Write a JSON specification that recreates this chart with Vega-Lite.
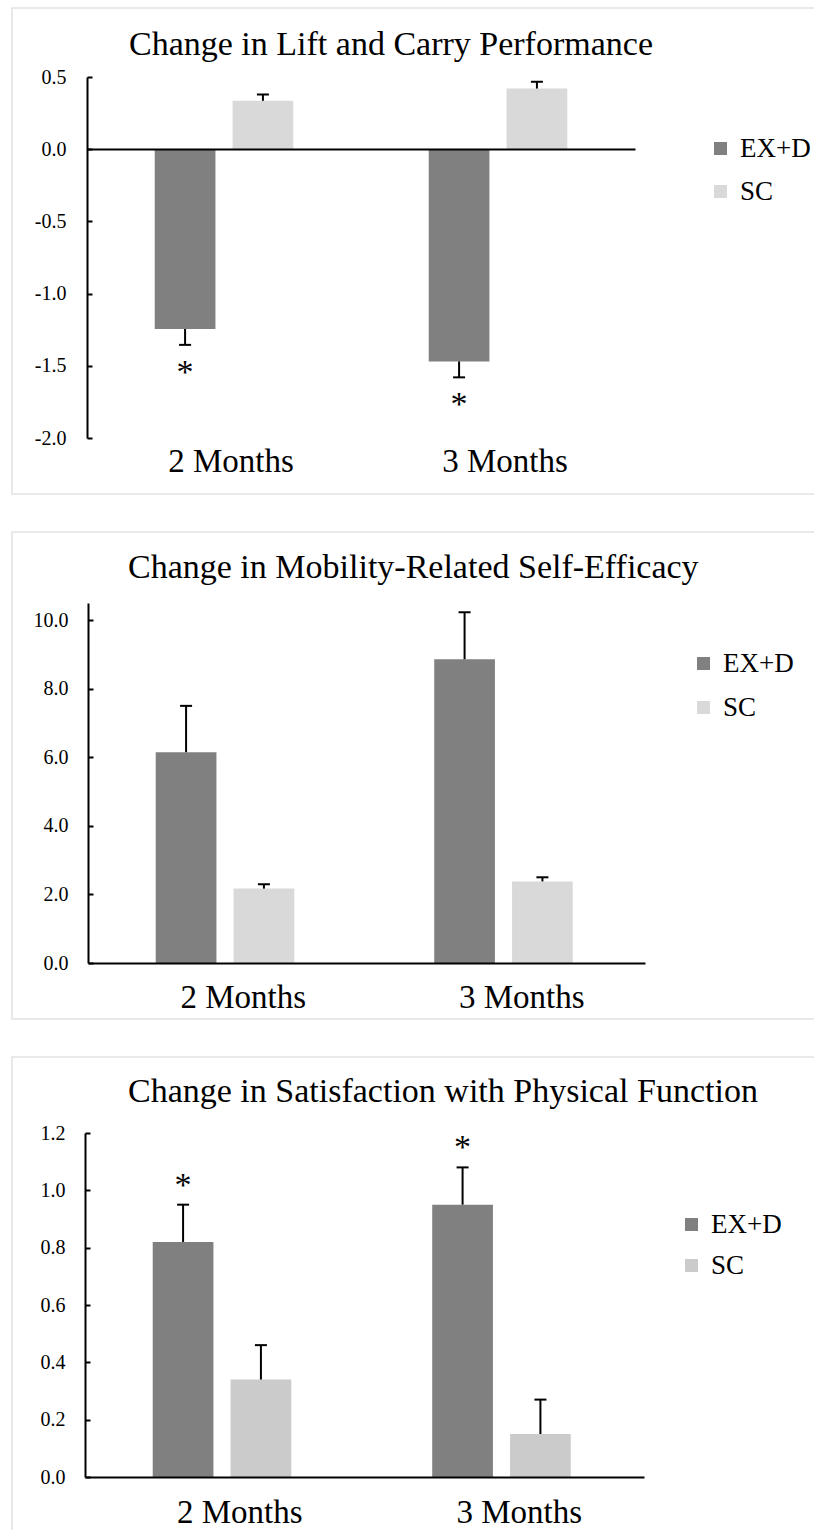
{
  "$schema": "https://vega.github.io/schema/vega-lite/v6.json",
  "padding": {"left": 11, "top": 7, "right": 0, "bottom": 0},
  "autosize": {"type": "pad"},
  "background": "white",
  "spacing": 36,
  "config": {
    "view": {"stroke": "#e2e2e2", "strokeWidth": 1.5},
    "font": "Liberation Serif",
    "style": {"guide-label": {"font": "Liberation Serif"}, "guide-title": {"font": "Liberation Serif"}, "group-title": {"font": "Liberation Serif"}},
    "axis": {"labelFont": "Liberation Serif", "labelColor": "black", "domainColor": "black", "tickColor": "black", "grid": false, "labelFlush": false},
    "legend": {"title": null, "symbolType": "square", "symbolSize": 169, "labelFont": "Liberation Serif", "labelFontSize": 27, "labelColor": "black", "labelOffset": 6, "symbolStrokeWidth": 0, "padding": 0, "symbolOpacity": 1},
    "title": {"font": "Liberation Serif", "fontSize": 34, "fontWeight": "normal", "color": "black", "anchor": "start", "baseline": "alphabetic"}
  },
  "resolve": {"scale": {"color": "independent"}, "legend": {"color": "independent"}},
  "datasets": {
    "p1": [
      {"month": "2 Months", "group": "EX+D", "value": -1.245, "err": -1.355, "sig": true},
      {"month": "2 Months", "group": "SC", "value": 0.335, "err": 0.378, "sig": false},
      {"month": "3 Months", "group": "EX+D", "value": -1.47, "err": -1.58, "sig": true},
      {"month": "3 Months", "group": "SC", "value": 0.42, "err": 0.467, "sig": false}
    ],
    "p2": [
      {"month": "2 Months", "group": "EX+D", "value": 6.15, "err": 7.5, "sig": false},
      {"month": "2 Months", "group": "SC", "value": 2.17, "err": 2.3, "sig": false},
      {"month": "3 Months", "group": "EX+D", "value": 8.86, "err": 10.23, "sig": false},
      {"month": "3 Months", "group": "SC", "value": 2.38, "err": 2.5, "sig": false}
    ],
    "p3": [
      {"month": "2 Months", "group": "EX+D", "value": 0.82, "err": 0.95, "sig": true},
      {"month": "2 Months", "group": "SC", "value": 0.34, "err": 0.46, "sig": false},
      {"month": "3 Months", "group": "EX+D", "value": 0.95, "err": 1.08, "sig": true},
      {"month": "3 Months", "group": "SC", "value": 0.15, "err": 0.27, "sig": false}
    ]
  },
  "vconcat": [
    {
      "width": 803, "height": 486,
      "title": {"text": "Change in Lift and Carry Performance", "dx": 117, "offset": -54, "font": "Liberation Serif"},
      "data": {"name": "p1"},
      "resolve": {"axis": {"x": "independent"}},
      "layer": [
        {
          "mark": {"type": "bar"},
          "encoding": {
            "x": {"field": "month", "type": "nominal", "scale": {"domain": ["2 Months", "3 Months"], "range": [75, 623], "paddingInner": 0, "paddingOuter": 0},
                  "axis": {"orient": "bottom", "title": null, "domain": false, "ticks": false, "labelAngle": 0, "labelFont": "Liberation Serif", "labelFontSize": 33, "labelBaseline": "alphabetic", "labelPadding": 0, "offset": -23, "labelOffset": 7}},
            "xOffset": {"field": "group", "type": "nominal", "scale": {"domain": ["EX+D", "SC"], "paddingInner": 0.22, "paddingOuter": 0.87}},
            "y": {"field": "value", "type": "quantitative", "scale": {"domain": [-2, 0.5], "range": [430, 69], "nice": false, "zero": false},
                  "axis": {"title": null, "values": [-2, -1.5, -1, -0.5, 0, 0.5], "labelExpr": "datum.value < 0 ? '-' + format(-datum.value, '.1f') : format(datum.value, '.1f')", "offset": -75, "tickSize": -5, "tickWidth": 2, "domainWidth": 2, "labelFont": "Liberation Serif", "labelFontSize": 20, "labelPadding": 26}},
            "color": {"field": "group", "type": "nominal", "scale": {"domain": ["EX+D", "SC"], "range": ["#808080", "#d9d9d9"]},
                      "legend": {"orient": "none", "legendX": 695, "legendY": 127, "rowPadding": 15, "labelFont": "Liberation Serif"}}
          }
        },
        {
          "mark": {"type": "rule", "strokeWidth": 2, "color": "black"},
          "encoding": {
            "x": {"field": "month", "type": "nominal", "axis": {"orient": "top", "title": null, "labels": false, "ticks": false, "domainWidth": 2, "offset": -141, "zindex": 1}},
            "xOffset": {"field": "group", "type": "nominal"},
            "y": {"field": "value", "type": "quantitative"},
            "y2": {"field": "err"}
          }
        },
        {
          "mark": {"type": "tick", "size": 12, "thickness": 2, "color": "black", "opacity": 1},
          "encoding": {
            "x": {"field": "month", "type": "nominal", "axis": null},
            "xOffset": {"field": "group", "type": "nominal"},
            "y": {"field": "err", "type": "quantitative"}
          }
        },
        {
          "transform": [{"filter": "datum.sig"}],
          "mark": {"type": "text", "text": "*", "fontSize": 34, "font": "Liberation Serif", "baseline": "alphabetic", "dy": 38, "color": "black"},
          "encoding": {
            "x": {"field": "month", "type": "nominal", "axis": null},
            "xOffset": {"field": "group", "type": "nominal"},
            "y": {"field": "err", "type": "quantitative"}
          }
        }
      ]
    },
    {
      "width": 803, "height": 487,
      "title": {"text": "Change in Mobility-Related Self-Efficacy", "dx": 116, "offset": -53, "font": "Liberation Serif"},
      "data": {"name": "p2"},
      "resolve": {"axis": {"x": "independent"}},
      "layer": [
        {
          "mark": {"type": "bar"},
          "encoding": {
            "x": {"field": "month", "type": "nominal", "scale": {"domain": ["2 Months", "3 Months"], "range": [76, 633], "paddingInner": 0, "paddingOuter": 0},
                  "axis": {"orient": "bottom", "title": null, "domain": false, "ticks": false, "labelAngle": 0, "labelFont": "Liberation Serif", "labelFontSize": 33, "labelBaseline": "alphabetic", "labelPadding": 0, "offset": -12, "labelOffset": 16}},
            "xOffset": {"field": "group", "type": "nominal", "scale": {"domain": ["EX+D", "SC"], "paddingInner": 0.22, "paddingOuter": 0.87}},
            "y": {"field": "value", "type": "quantitative", "scale": {"domain": [0, 10.5], "range": [431, 71], "nice": false, "zero": false},
                  "axis": {"title": null, "values": [0, 2, 4, 6, 8, 10], "format": ".1f", "offset": -76, "tickSize": -5, "tickWidth": 2, "domainWidth": 2, "labelFont": "Liberation Serif", "labelFontSize": 20, "labelPadding": 25}},
            "color": {"field": "group", "type": "nominal", "scale": {"domain": ["EX+D", "SC"], "range": ["#808080", "#d9d9d9"]},
                      "legend": {"orient": "none", "legendX": 678, "legendY": 118, "rowPadding": 16, "labelFont": "Liberation Serif"}}
          }
        },
        {
          "mark": {"type": "rule", "strokeWidth": 2, "color": "black"},
          "encoding": {
            "x": {"field": "month", "type": "nominal", "axis": {"orient": "top", "title": null, "labels": false, "ticks": false, "domainWidth": 2, "offset": -431, "zindex": 1}},
            "xOffset": {"field": "group", "type": "nominal"},
            "y": {"field": "value", "type": "quantitative"},
            "y2": {"field": "err"}
          }
        },
        {
          "mark": {"type": "tick", "size": 12, "thickness": 2, "color": "black", "opacity": 1},
          "encoding": {
            "x": {"field": "month", "type": "nominal", "axis": null},
            "xOffset": {"field": "group", "type": "nominal"},
            "y": {"field": "err", "type": "quantitative"}
          }
        }
      ]
    },
    {
      "width": 803, "height": 478,
      "title": {"text": "Change in Satisfaction with Physical Function", "dx": 116, "offset": -52, "font": "Liberation Serif"},
      "data": {"name": "p3"},
      "resolve": {"axis": {"x": "independent"}},
      "layer": [
        {
          "mark": {"type": "bar"},
          "encoding": {
            "x": {"field": "month", "type": "nominal", "scale": {"domain": ["2 Months", "3 Months"], "range": [73, 632], "paddingInner": 0, "paddingOuter": 0},
                  "axis": {"orient": "bottom", "title": null, "domain": false, "ticks": false, "labelAngle": 0, "labelFont": "Liberation Serif", "labelFontSize": 33, "labelBaseline": "alphabetic", "labelPadding": 0, "offset": -13, "labelOffset": 15}},
            "xOffset": {"field": "group", "type": "nominal", "scale": {"domain": ["EX+D", "SC"], "paddingInner": 0.22, "paddingOuter": 0.87}},
            "y": {"field": "value", "type": "quantitative", "scale": {"domain": [0, 1.2], "range": [420, 76], "nice": false, "zero": false},
                  "axis": {"title": null, "values": [0, 0.2, 0.4, 0.6, 0.8, 1.0, 1.2], "format": ".1f", "offset": -73, "tickSize": -5, "tickWidth": 2, "domainWidth": 2, "labelFont": "Liberation Serif", "labelFontSize": 20, "labelPadding": 25}},
            "color": {"field": "group", "type": "nominal", "scale": {"domain": ["EX+D", "SC"], "range": ["#808080", "#cbcbcb"]},
                      "legend": {"orient": "none", "legendX": 666, "legendY": 154, "rowPadding": 13, "labelFont": "Liberation Serif"}}
          }
        },
        {
          "mark": {"type": "rule", "strokeWidth": 2, "color": "black"},
          "encoding": {
            "x": {"field": "month", "type": "nominal", "axis": {"orient": "top", "title": null, "labels": false, "ticks": false, "domainWidth": 2, "offset": -420, "zindex": 1}},
            "xOffset": {"field": "group", "type": "nominal"},
            "y": {"field": "value", "type": "quantitative"},
            "y2": {"field": "err"}
          }
        },
        {
          "mark": {"type": "tick", "size": 12, "thickness": 2, "color": "black", "opacity": 1},
          "encoding": {
            "x": {"field": "month", "type": "nominal", "axis": null},
            "xOffset": {"field": "group", "type": "nominal"},
            "y": {"field": "err", "type": "quantitative"}
          }
        },
        {
          "transform": [{"filter": "datum.sig"}],
          "mark": {"type": "text", "text": "*", "fontSize": 34, "font": "Liberation Serif", "baseline": "alphabetic", "dy": -9, "color": "black"},
          "encoding": {
            "x": {"field": "month", "type": "nominal", "axis": null},
            "xOffset": {"field": "group", "type": "nominal"},
            "y": {"field": "err", "type": "quantitative"}
          }
        }
      ]
    }
  ]
}
